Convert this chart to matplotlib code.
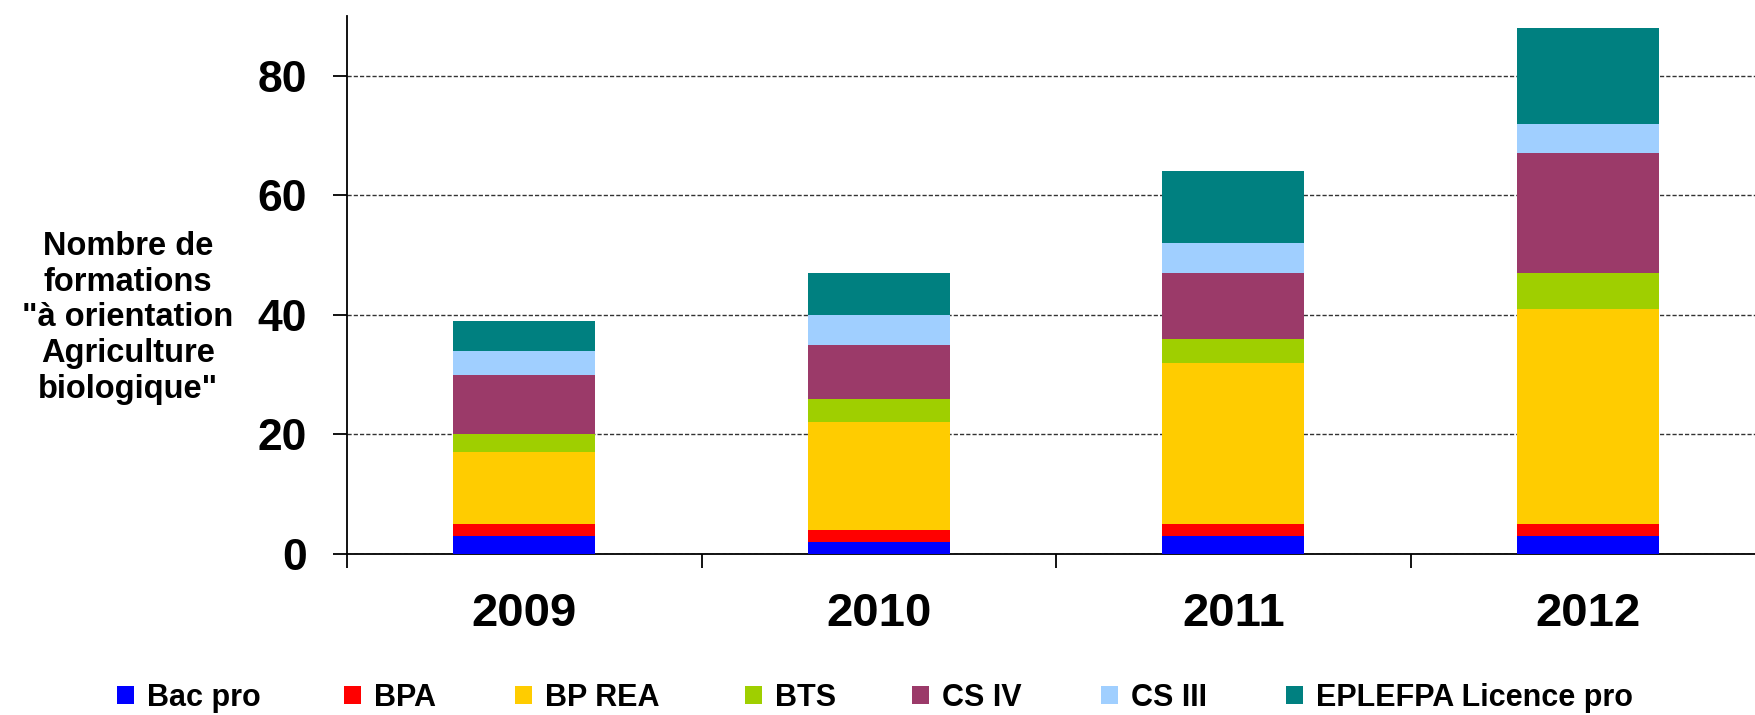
import numpy as np
import matplotlib
matplotlib.use("Agg")
import matplotlib.pyplot as plt
from matplotlib.patches import Patch

plt.rcParams['font.family'] = ['Liberation Sans', 'DejaVu Sans']
plt.rcParams['font.weight'] = 'bold'

# Data
years = ['2009', '2010', '2011', '2012']
series = ['Bac pro', 'BPA', 'BP REA', 'BTS', 'CS IV', 'CS III', 'EPLEFPA Licence pro']
bac_pro = [3, 2, 3, 3]
bpa = [2, 2, 2, 2]
bp_rea = [12, 18, 27, 36]
bts = [3, 4, 4, 6]
cs_iv = [10, 9, 11, 20]
cs_iii = [4, 5, 5, 5]
eplefpa = [5, 7, 12, 16]
colors = ['#0000FF', '#FF0000', '#FFCC00', '#9FCF00', '#9B3A69', '#A0CFFF', '#008080']

values = [bac_pro, bpa, bp_rea, bts, cs_iv, cs_iii, eplefpa]

fig = plt.figure(figsize=(17.55, 7.15), dpi=100)
ax = fig.add_axes([347/1755, 161/715, 1418/1755, 538/715])

x = np.arange(len(years))
bottom = np.zeros(len(years))
for name, vals, c in zip(series, values, colors):
    ax.bar(x, vals, 0.4, bottom=bottom, color=c, label=name, zorder=3)
    bottom += np.array(vals)

ax.set_xlim(-0.5, 3.5)
ax.set_ylim(0, 90)
ax.set_yticks([0, 20, 40, 60, 80])
ax.yaxis.grid(True, linestyle=(0, (3, 1.5)), color='#333333', linewidth=1, zorder=0)
ax.spines['top'].set_visible(False)
ax.spines['right'].set_visible(False)
ax.spines['left'].set_linewidth(1.3)
ax.spines['bottom'].set_linewidth(1.3)

ax.set_xticks(x)
ax.set_xticklabels(years, fontsize=34, fontweight='bold')
ax.set_xticks(np.arange(-0.5, 4, 1), minor=True)
ax.tick_params(axis='x', which='major', length=0, pad=27)
ax.tick_params(axis='x', which='minor', length=10, width=1.3, direction='out')
ax.tick_params(axis='y', labelsize=32, length=10, width=1.3, direction='out', pad=19)
for lab in ax.get_yticklabels():
    lab.set_fontweight('bold')

fig.text(128/1755, 1 - 318/715,
         'Nombre de\nformations\n"à orientation\nAgriculture\nbiologique"',
         ha='center', va='center', fontsize=23.5, fontweight='bold', linespacing=1.2)

# legend entries placed where the original has them
leg_x = [117, 344, 515, 745, 912, 1101, 1286]
for name, c, lx in zip(series, colors, leg_x):
    h = Patch(facecolor=c, edgecolor='none')
    fig.legend(handles=[h], labels=[name], loc='center left',
               bbox_to_anchor=(lx/1755, 1 - 698/715), frameon=False,
               fontsize=22, handlelength=0.55, handleheight=0.55, handletextpad=0.42,
               borderpad=0, borderaxespad=0)

fig.savefig('out.png', dpi=100)
